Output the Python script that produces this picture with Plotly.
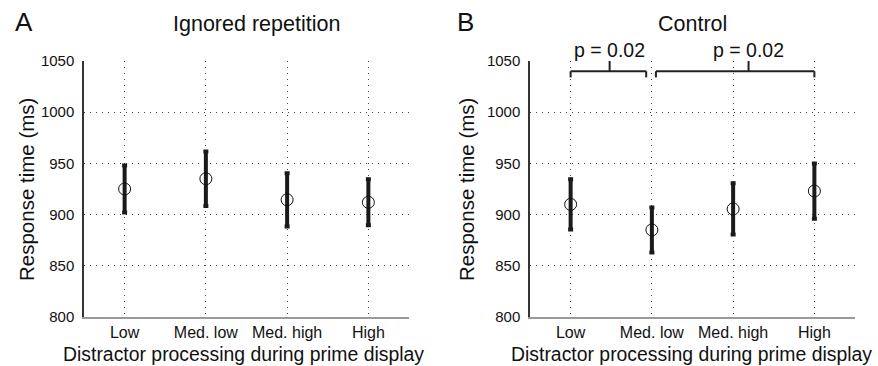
import plotly.graph_objects as go

categories = ["Low", "Med. low", "Med. high", "High"]
ignored_mean = [925, 935, 914.5, 912]
ignored_err = [23, 26.5, 26, 22.5]
control_mean = [910, 885, 905.5, 923]
control_err = [24.5, 22, 25, 27]
y_ticks = [800, 850, 900, 950, 1000, 1050]
p_labels = ["p = 0.02", "p = 0.02"]

W, H = 878, 366
FONT = "Liberation Sans, Arial, Helvetica, sans-serif"
xi = list(range(len(categories)))

fig = go.Figure()
for mean, err, xa, ya in [(ignored_mean, ignored_err, "x", "y"), (control_mean, control_err, "x2", "y2")]:
    fig.add_trace(go.Scatter(
        x=xi, y=mean, mode="markers", xaxis=xa, yaxis=ya,
        marker=dict(symbol="circle-open", size=12, color="#111", line=dict(width=1, color="#111")),
        error_y=dict(type="data", array=err, visible=True, color="#1a1a1a", thickness=4, width=2.5),
        showlegend=False, cliponaxis=False,
    ))

def px_x(p):
    return p / W

def px_y(p):
    return 1 - p / H

axis_common = dict(
    showgrid=True, gridcolor="#444", griddash="1px,5px", gridwidth=1,
    zeroline=False, ticks="", automargin=False,
)
xdef = dict(axis_common, range=[-0.5, 3.5], tickvals=xi, ticktext=categories,
            tickfont=dict(family=FONT, size=16, color="#111"),
            showline=True, linecolor="#999", linewidth=1.5, ticklabelstandoff=0)
ydef = dict(axis_common, range=[800, 1050], tickvals=y_ticks,
            tickfont=dict(family=FONT, size=15, color="#111"),
            showline=True, linecolor="#333", linewidth=1.5, ticklabelstandoff=5)

fig.update_layout(
    template="none",
    width=W, height=H, margin=dict(l=0, r=0, t=0, b=0, autoexpand=False),
    paper_bgcolor="white", plot_bgcolor="white",
    font=dict(family=FONT, color="#111"),
    xaxis=dict(xdef, domain=[px_x(84), px_x(409)], anchor="y"),
    yaxis=dict(ydef, domain=[px_y(317), px_y(61)], anchor="x"),
    xaxis2=dict(xdef, domain=[px_x(530), px_x(855)], anchor="y2"),
    yaxis2=dict(ydef, domain=[px_y(317), px_y(61)], anchor="x2"),
)

ann = []
def text(x, y, s, size, yanchor="middle", **kw):
    ann.append(dict(x=px_x(x), y=px_y(y), xref="paper", yref="paper", text=s, showarrow=False,
                    font=dict(family=FONT, size=size, color="#111"), xanchor="center", yanchor=yanchor, **kw))

text(24, 22, "A", 26)
text(465, 22, "B", 26)
text(256, 24, "Ignored repetition", 21.5)
text(692, 24, "Control", 21.5)
text(243, 366, "Distractor processing during prime display", 19.4, yanchor="bottom", borderpad=0)
text(691, 366, "Distractor processing during prime display", 19.4, yanchor="bottom", borderpad=0)
text(26, 190, "Response time (ms)", 20.5, textangle=-90)
text(466, 190, "Response time (ms)", 20.5, textangle=-90)

# significance brackets (data coords on panel B)
brackets = [(0, 0.93, 0.48), (1.05, 3.0, 2.19)]
shapes = []
for (x0, x1, xs), lab in zip(brackets, p_labels):
    ln = dict(color="#222", width=2)
    shapes.append(dict(type="line", xref="x2", yref="y2", x0=x0, x1=x1, y0=1040, y1=1040, line=ln))
    shapes.append(dict(type="line", xref="x2", yref="y2", x0=x0, x1=x0, y0=1040, y1=1034, line=ln))
    shapes.append(dict(type="line", xref="x2", yref="y2", x0=x1, x1=x1, y0=1040, y1=1034, line=ln))
    shapes.append(dict(type="line", xref="x2", yref="y2", x0=xs, x1=xs, y0=1040, y1=1050, line=ln))
    ann.append(dict(x=xs, y=1050, xref="x2", yref="y2", text=lab, showarrow=False, yanchor="bottom",
                    yshift=-2, font=dict(family=FONT, size=19.5, color="#111")))

fig.update_layout(annotations=ann, shapes=shapes)
fig.write_html("out.html")
